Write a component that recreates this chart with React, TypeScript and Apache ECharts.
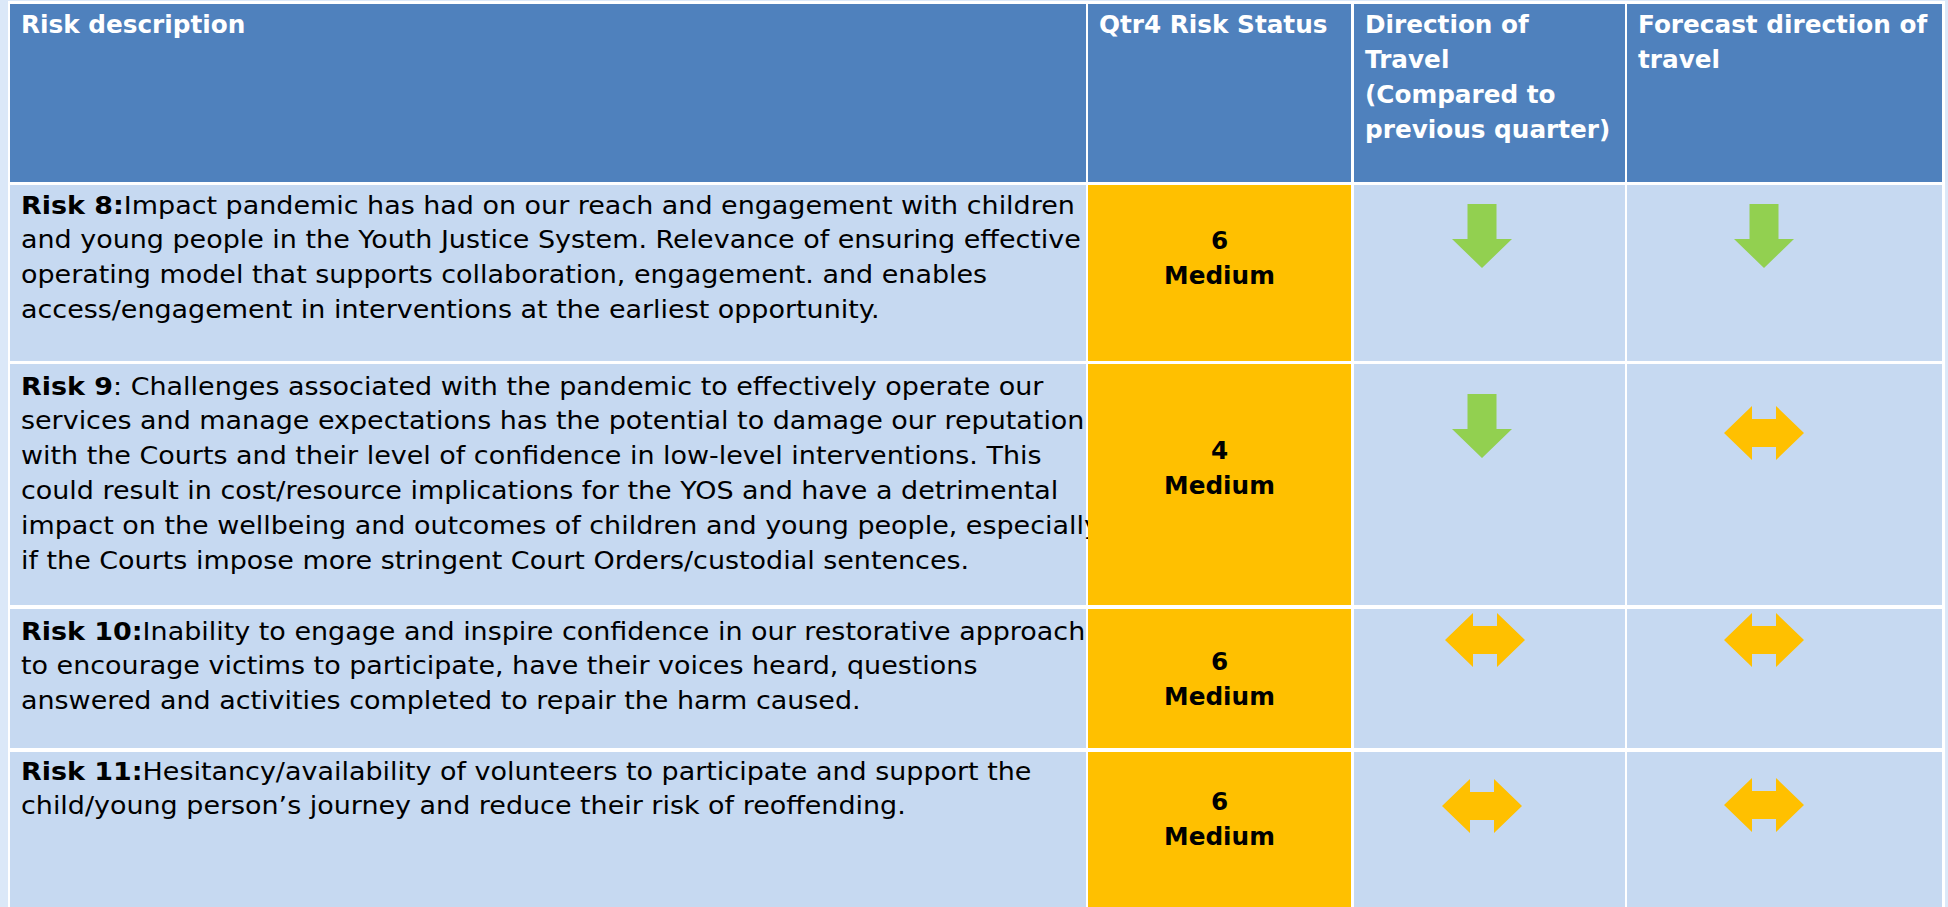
import React, { useEffect, useRef } from "react";
import * as echarts from "echarts";

// ---------- data ----------
const headers = [
  ["Risk description"],
  ["Qtr4 Risk Status"],
  ["Direction of", "Travel", "(Compared to", "previous quarter)"],
  ["Forecast direction of", "travel"],
];

const riskLabels = ["Risk 8:", "Risk 9", "Risk 10:", "Risk 11:"];

const riskLines = [
  [
    "Impact pandemic has had on our reach and engagement with children",
    "and young people in the Youth Justice System. Relevance of ensuring effective",
    "operating model that supports collaboration, engagement. and enables",
    "access/engagement in interventions at the earliest opportunity.",
  ],
  [
    ": Challenges associated with the pandemic to effectively operate our",
    "services and manage expectations has the potential to damage our reputation",
    "with the Courts and their level of confidence in low-level interventions. This",
    "could result in cost/resource implications for the YOS and have a detrimental",
    "impact on the wellbeing and outcomes of children and young people, especially",
    "if the Courts impose more stringent Court Orders/custodial sentences.",
  ],
  [
    "Inability to engage and inspire confidence in our restorative approach",
    "to encourage victims to participate, have their voices heard, questions",
    "answered and activities completed to repair the harm caused.",
  ],
  [
    "Hesitancy/availability of volunteers to participate and support the",
    "child/young person\u2019s journey and reduce their risk of reoffending.",
  ],
];

const statusScores = [6, 4, 6, 6];
const statusLevels = ["Medium", "Medium", "Medium", "Medium"];
const directionOfTravel = ["down", "down", "both", "both"];
const forecastDirection = ["down", "both", "both", "both"];

// ---------- layout ----------
const W = 1948;
const H = 907;
const FONT = "'DejaVu Sans', sans-serif";
const FS = 25;
const LINE = 34.8;
const BODY_STRETCH = 1.078;
const HEAD_STRETCH = 1.03;
const colX = [10, 1088, 1354, 1627];
const colW = [1076, 263, 271, 315];
const headerTop = 4;
const headerH = 178;
const rowTop = [185, 364, 609, 752];
const rowH = [176, 241, 139, 160];
const textTopOffset = [20, 22, 22, 19];
const statusY = [241, 451, 662, 802];
const dirAnchor = [
  [1482, 236],
  [1482, 426],
  [1485, 640],
  [1482, 806],
];
const fcAnchor = [
  [1764, 236],
  [1764, 433],
  [1764, 640],
  [1764, 805],
];

const C = {
  page: "#dbe8f8",
  grid: "#ffffff",
  header: "#4f81bd",
  body: "#c6d9f1",
  status: "#ffc000",
  green: "#92d050",
  amber: "#ffc000",
  text: "#000000",
};

function downArrow(cx: number, cy: number, color: string) {
  const top = cy - 32;
  return {
    type: "polygon",
    shape: {
      points: [
        [cx - 14.5, top],
        [cx + 14.5, top],
        [cx + 14.5, top + 35],
        [cx + 30, top + 35],
        [cx, top + 64],
        [cx - 30, top + 35],
        [cx - 14.5, top + 35],
      ],
    },
    style: { fill: color },
    z: 5,
  };
}

function doubleArrow(cx: number, cy: number, color: string) {
  return {
    type: "polygon",
    shape: {
      points: [
        [cx - 40, cy],
        [cx - 12, cy - 27],
        [cx - 12, cy - 14],
        [cx + 12, cy - 14],
        [cx + 12, cy - 27],
        [cx + 40, cy],
        [cx + 12, cy + 27],
        [cx + 12, cy + 14],
        [cx - 12, cy + 14],
        [cx - 12, cy + 27],
      ],
    },
    style: { fill: color },
    z: 5,
  };
}

function buildGraphics() {
  const els: any[] = [];
  els.push({ type: "rect", shape: { x: 0, y: 0, width: W, height: H }, style: { fill: C.page }, z: 0 });
  els.push({ type: "rect", shape: { x: 8, y: 1, width: 1937, height: H }, style: { fill: C.grid }, z: 0 });

  headers.forEach((lines, c) => {
    els.push({
      type: "rect",
      shape: { x: colX[c], y: headerTop, width: colW[c], height: headerH },
      style: { fill: C.header },
      z: 1,
    });
    lines.forEach((ln, i) => {
      els.push({
        type: "text",
        x: colX[c] + 11,
        y: headerTop + 21 + i * LINE,
        scaleX: HEAD_STRETCH,
        style: {
          text: ln,
          fill: "#ffffff",
          font: `bold ${FS - 1}px ${FONT}`,
          textAlign: "left",
          textVerticalAlign: "middle",
        },
        z: 3,
      });
    });
  });

  riskLines.forEach((lines, r) => {
    els.push({
      type: "rect",
      shape: { x: colX[0], y: rowTop[r], width: colW[0], height: rowH[r] },
      style: { fill: C.body },
      z: 1,
    });
    lines.forEach((ln, i) => {
      const y = rowTop[r] + textTopOffset[r] + i * LINE;
      const isFirst = i === 0;
      els.push({
        type: "text",
        x: colX[0] + 11,
        y,
        scaleX: BODY_STRETCH,
        style: {
          text: isFirst ? `{b|${riskLabels[r]}}{n|${ln}}` : ln,
          fill: C.text,
          font: `${FS}px ${FONT}`,
          textAlign: "left",
          textVerticalAlign: "middle",
          rich: {
            b: { fontWeight: "bold", fontSize: FS, fontFamily: FONT, fill: C.text },
            n: { fontWeight: "normal", fontSize: FS, fontFamily: FONT, fill: C.text },
          },
        },
        z: 2,
      });
    });

    els.push({
      type: "rect",
      shape: { x: colX[1], y: rowTop[r], width: colW[1], height: rowH[r] },
      style: { fill: C.status },
      z: 4,
    });
    [String(statusScores[r]), statusLevels[r]].forEach((t, i) => {
      els.push({
        type: "text",
        x: colX[1] + colW[1] / 2,
        y: statusY[r] + i * LINE,
        scaleX: HEAD_STRETCH,
        style: {
          text: t,
          fill: C.text,
          font: `bold ${FS - 1}px ${FONT}`,
          textAlign: "center",
          textVerticalAlign: "middle",
        },
        z: 5,
      });
    });

    [2, 3].forEach((c) => {
      els.push({
        type: "rect",
        shape: { x: colX[c], y: rowTop[r], width: colW[c], height: rowH[r] },
        style: { fill: C.body },
        z: 4,
      });
    });
    const d = directionOfTravel[r];
    const f = forecastDirection[r];
    els.push(
      d === "down"
        ? downArrow(dirAnchor[r][0], dirAnchor[r][1], C.green)
        : doubleArrow(dirAnchor[r][0], dirAnchor[r][1], C.amber)
    );
    els.push(
      f === "down"
        ? downArrow(fcAnchor[r][0], fcAnchor[r][1], C.green)
        : doubleArrow(fcAnchor[r][0], fcAnchor[r][1], C.amber)
    );
  });
  return els;
}

export default function App() {
  const ref = useRef<HTMLDivElement>(null);
  useEffect(() => {
    if (!ref.current) return;
    const chart = echarts.init(ref.current, undefined, { renderer: "svg" });
    chart.setOption({
      animation: false,
      backgroundColor: C.page,
      graphic: { elements: buildGraphics() },
    });
    return () => chart.dispose();
  }, []);
  return (
    <div
      ref={ref}
      style={{ position: "fixed", left: 0, top: 0, width: W, height: H }}
    />
  );
}
